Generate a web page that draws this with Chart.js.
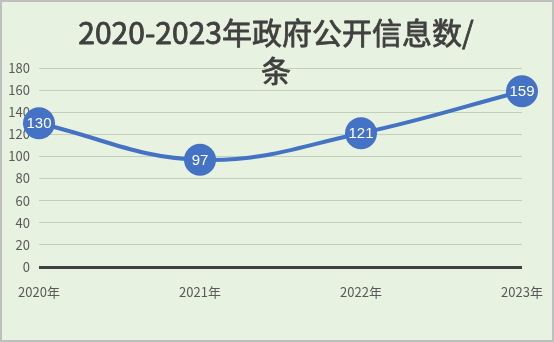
<!DOCTYPE html>
<html>
<head>
<meta charset="utf-8">
<script src="https://cdn.jsdelivr.net/npm/chart.js@4"></script>
<style>
  body { margin: 0; background: #e8f2e0; }
  #wrap { width: 554px; height: 342px; }
</style>
</head>
<body>
<div id="wrap"><canvas id="infochart" width="554" height="342"></canvas></div>
<script>
// data
const years = ['2020年', '2021年', '2022年', '2023年'];
const counts = [130, 97, 121, 159];
const titleLines = ['2020-2023年政府公开信息数/', '条'];

const cjk = '"Noto Sans CJK SC", "Liberation Sans", sans-serif';

// background + border + title + point labels
const decor = {
  id: 'decor',
  beforeDraw(chart) {
    const c = chart.ctx;
    c.save();
    c.fillStyle = '#e8f2e0';
    c.fillRect(0, 0, chart.width, chart.height);
    c.strokeStyle = '#bfbfbf';
    c.lineWidth = 2;
    c.strokeRect(1, 1, chart.width - 2, chart.height - 2);
    c.restore();
  },
  afterDraw(chart) {
    const c = chart.ctx;
    c.save();
    c.fillStyle = '#404040';
    c.strokeStyle = '#404040';
    c.lineWidth = 0.8;
    c.lineJoin = 'round';
    c.font = '30px ' + cjk;
    c.textAlign = 'center';
    c.textBaseline = 'middle';
    titleLines.forEach((t, i) => {
      const y = i === 0 ? 33 : 71;
      c.fillText(t, 276, y);
      c.strokeText(t, 276, y);
    });

    const meta = chart.getDatasetMeta(0);
    c.fillStyle = '#ffffff';
    c.font = '15px "Liberation Sans", Arial, sans-serif';
    meta.data.forEach((pt, i) => {
      c.fillText(counts[i], pt.x, pt.y + 1);
    });
    c.restore();
  }
};

const myChart = new Chart(document.getElementById('infochart'), {
  type: 'line',
  data: {
    labels: years,
    datasets: [{
      data: counts,
      borderColor: '#4472c4',
      borderWidth: 4,
      tension: 0.4,
      pointRadius: 16,
      pointHoverRadius: 16,
      pointBackgroundColor: '#4472c4',
      pointBorderColor: '#4472c4',
      pointBorderWidth: 0,
      clip: false
    }]
  },
  options: {
    responsive: false,
    animation: false,
    events: [],
    layout: {
      padding: { top: 68, right: 32, left: 0, bottom: 0 }
    },
    scales: {
      x: {
        offset: false,
        grid: { display: false },
        border: { display: false },
        afterFit(scale) { scale.height = 75; },
        ticks: {
          padding: 9,
          maxRotation: 0,
          color: '#595959',
          font: { size: 13, family: cjk }
        }
      },
      y: {
        min: 0,
        max: 180,
        border: { display: false },
        afterFit(scale) { scale.width = 39; },
        grid: {
          drawTicks: false,
          color: (ctx) => ctx.index === 0 ? '#404040' : '#c3cebb',
          lineWidth: (ctx) => ctx.index === 0 ? 3 : 1
        },
        ticks: {
          stepSize: 20,
          padding: 9,
          color: '#595959',
          font: { size: 13, family: cjk }
        }
      }
    },
    plugins: {
      legend: { display: false },
      title: { display: false },
      tooltip: { enabled: false }
    }
  },
  plugins: [decor]
});
</script>
</body>
</html>
